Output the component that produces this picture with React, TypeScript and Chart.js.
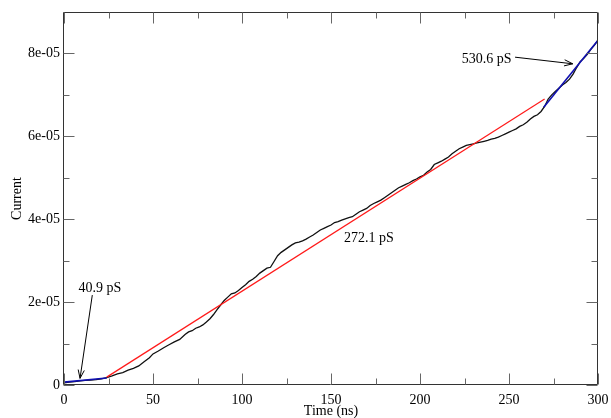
import { useEffect, useRef } from 'react';
import { Chart, registerables } from 'chart.js';

Chart.register(...registerables);

// ---- Data (time in ns, current in units of 1e-5) ----
const TIME: number[] = [
  0, 3, 6, 9, 12, 15, 18, 21, 24, 27, 30, 33, 36, 39, 42, 45, 48, 50, 53, 56, 59, 62, 65, 68, 70, 72, 74, 76, 78, 80,
  82, 84, 86, 88, 90, 92, 94, 96, 98, 100, 102, 104, 106, 108, 110, 112, 114, 116, 118, 120, 122, 124, 126, 128, 130,
  132, 134, 136, 138, 140, 142, 144, 146, 148, 150, 152, 154, 156, 158, 160, 162, 164, 166, 168, 170, 172, 174, 176,
  178, 180, 182, 184, 186, 188, 190, 192, 194, 196, 198, 200, 202, 204, 206, 208, 210, 212, 214, 216, 218, 220, 222,
  224, 226, 228, 230, 232, 234, 236, 238, 240, 242, 244, 246, 248, 250, 252, 254, 256, 258, 260, 262, 264, 266, 268,
  270, 272, 274, 276, 278, 280, 282, 284, 286, 288, 290, 292, 294, 296, 298, 300,
];
const CURRENT_E5: number[] = [
  0.05, 0.07, 0.08, 0.1, 0.11, 0.12, 0.13, 0.15, 0.18, 0.22, 0.27, 0.3, 0.36, 0.4, 0.46, 0.56, 0.66, 0.75, 0.82, 0.9,
  0.97, 1.04, 1.1, 1.22, 1.28, 1.31, 1.37, 1.4, 1.45, 1.52, 1.6, 1.7, 1.82, 1.93, 2.04, 2.12, 2.2, 2.22, 2.28, 2.35,
  2.42, 2.5, 2.55, 2.62, 2.7, 2.76, 2.82, 2.84, 2.98, 3.12, 3.2, 3.26, 3.32, 3.38, 3.43, 3.45, 3.48, 3.52, 3.57, 3.62,
  3.68, 3.74, 3.78, 3.82, 3.86, 3.92, 3.94, 3.98, 4.01, 4.04, 4.06, 4.12, 4.18, 4.22, 4.26, 4.33, 4.38, 4.42, 4.46,
  4.52, 4.58, 4.64, 4.7, 4.76, 4.8, 4.84, 4.88, 4.93, 4.97, 5.02, 5.06, 5.14, 5.2, 5.32, 5.36, 5.4, 5.45, 5.5, 5.58,
  5.64, 5.7, 5.74, 5.78, 5.8, 5.82, 5.84, 5.86, 5.88, 5.9, 5.93, 5.95, 5.98, 6.02, 6.06, 6.1, 6.14, 6.18, 6.24, 6.28,
  6.34, 6.42, 6.48, 6.52, 6.6, 6.72, 6.9, 7.0, 7.08, 7.16, 7.24, 7.3, 7.38, 7.5, 7.66, 7.8, 7.88, 7.98, 8.1, 8.2, 8.32,
];

// Linear fits: [x0, x1], [y0, y1] (y in 1e-5)
const FIT_MID_X: number[] = [24, 270];
const FIT_MID_Y: number[] = [0.19, 6.9];
const FIT_LOW_X: number[] = [0, 24];
const FIT_LOW_Y: number[] = [0.07, 0.17];
const FIT_HIGH_X: number[] = [269.5, 300];
const FIT_HIGH_Y: number[] = [6.7, 8.32];

// Axis ticks
const X_MAJOR: number[] = [0, 50, 100, 150, 200, 250, 300];
const X_MINOR: number[] = [25, 75, 125, 175, 225, 275];
const Y_MAJOR: number[] = [0, 2e-5, 4e-5, 6e-5, 8e-5];
const Y_MINOR: number[] = [1e-5, 3e-5, 5e-5, 7e-5];

// Annotations: label text and position (data coords), arrows from -> to
const LABELS: { text: string; x: number; y: number }[] = [
  { text: '40.9 pS', x: 20.2, y: 2.34e-5 },
  { text: '272.1 pS', x: 171.3, y: 3.54e-5 },
  { text: '530.6 pS', x: 237.4, y: 7.86e-5 },
];
const ARROWS: { x0: number; y0: number; x1: number; y1: number }[] = [
  { x0: 15.9, y0: 2.17e-5, x1: 9.0, y1: 0.16e-5 },
  { x0: 253.4, y0: 7.91e-5, x1: 285.8, y1: 7.75e-5 },
];

const FONT = '"Liberation Serif", "Times New Roman", serif';

const toPts = (xs: number[], ys: number[]) => xs.map((x, i) => ({ x, y: ys[i] * 1e-5 }));

const framePlugin = {
  id: 'frameTicks',
  afterDatasetsDraw(chart: any) {
    const { ctx, chartArea } = chart;
    const xs = chart.scales.x;
    const ys = chart.scales.y;
    const { left, right, top, bottom } = chartArea;
    ctx.save();
    ctx.strokeStyle = '#333';
    ctx.lineWidth = 1;
    ctx.beginPath();
    const L = Math.round(left) - 0.5;
    const R = Math.round(right) - 0.5;
    const T = Math.round(top) + 0.5;
    const B = Math.round(bottom) - 0.5;
    ctx.rect(L, T, R - L, B - T);
    ctx.stroke();
    ctx.strokeStyle = '#666';
    ctx.beginPath();
    const xt = (vals: number[], len: number) => {
      vals.forEach((v) => {
        const px = Math.round(xs.getPixelForValue(v)) + 0.5;
        ctx.moveTo(px, B);
        ctx.lineTo(px, B - len);
        ctx.moveTo(px, T);
        ctx.lineTo(px, T + len);
      });
    };
    const yt = (vals: number[], len: number) => {
      vals.forEach((v) => {
        const py = Math.round(ys.getPixelForValue(v)) + 0.5;
        ctx.moveTo(L, py);
        ctx.lineTo(L + len, py);
        ctx.moveTo(R, py);
        ctx.lineTo(R - len, py);
      });
    };
    xt(X_MAJOR, 11);
    xt(X_MINOR, 6);
    yt(Y_MAJOR, 11);
    yt(Y_MINOR, 6);
    ctx.stroke();

    // annotations
    ctx.fillStyle = '#000';
    ctx.font = `14px ${FONT}`;
    ctx.textAlign = 'center';
    ctx.textBaseline = 'middle';
    LABELS.forEach((l) => {
      ctx.fillText(l.text, xs.getPixelForValue(l.x), ys.getPixelForValue(l.y));
    });
    ctx.strokeStyle = '#000';
    ctx.lineWidth = 1;
    ARROWS.forEach((a) => {
      const x0 = xs.getPixelForValue(a.x0);
      const y0 = ys.getPixelForValue(a.y0);
      const x1 = xs.getPixelForValue(a.x1);
      const y1 = ys.getPixelForValue(a.y1);
      const ang = Math.atan2(y1 - y0, x1 - x0);
      const hl = 9;
      const spread = 0.35;
      ctx.beginPath();
      ctx.moveTo(x0, y0);
      ctx.lineTo(x1, y1);
      ctx.moveTo(x1 - hl * Math.cos(ang - spread), y1 - hl * Math.sin(ang - spread));
      ctx.lineTo(x1, y1);
      ctx.lineTo(x1 - hl * Math.cos(ang + spread), y1 - hl * Math.sin(ang + spread));
      ctx.stroke();
    });
    ctx.restore();
  },
};

export default function App() {
  const ref = useRef<HTMLCanvasElement | null>(null);
  useEffect(() => {
    if (!ref.current) return;
    const chart = new Chart(ref.current, {
      type: 'scatter',
      data: {
        datasets: [
          {
            data: toPts(TIME, CURRENT_E5),
            showLine: true,
            borderColor: '#111',
            borderWidth: 1.3,
            pointRadius: 0,
            order: 3,
          },
          {
            data: toPts(FIT_MID_X, FIT_MID_Y),
            showLine: true,
            borderColor: '#ff1a1a',
            borderWidth: 1.2,
            pointRadius: 0,
            order: 2,
          },
          {
            data: toPts(FIT_LOW_X, FIT_LOW_Y),
            showLine: true,
            borderColor: '#1010b0',
            borderWidth: 1.6,
            pointRadius: 0,
            order: 1,
          },
          {
            data: toPts(FIT_HIGH_X, FIT_HIGH_Y),
            showLine: true,
            borderColor: '#1010b0',
            borderWidth: 1.6,
            pointRadius: 0,
            order: 1,
          },
        ],
      },
      options: {
        responsive: false,
        animation: false,
        devicePixelRatio: 1,
        layout: { padding: { top: 12, right: 13, left: 0, bottom: 0 } },
        plugins: { legend: { display: false }, tooltip: { enabled: false } },
        scales: {
          x: {
            type: 'linear',
            min: 0,
            max: 300,
            afterBuildTicks: (s: any) => {
              s.ticks = X_MAJOR.map((v) => ({ value: v }));
            },
            afterFit: (s: any) => {
              s.height = 33;
              s.paddingLeft = 0;
              s.paddingRight = 0;
            },
            grid: { display: false, drawTicks: false },
            border: { display: false },
            ticks: {
              color: '#000',
              font: { family: FONT, size: 14 },
              padding: 7,
              maxRotation: 0,
              autoSkip: false,
            },
            title: {
              display: true,
              text: 'Time (ns)',
              color: '#000',
              font: { family: FONT, size: 14 },
              padding: { top: 0, bottom: -2 },
            },
          },
          y: {
            type: 'linear',
            min: 0,
            max: 9e-5,
            afterBuildTicks: (s: any) => {
              s.ticks = Y_MAJOR.map((v) => ({ value: v }));
            },
            afterFit: (s: any) => {
              s.width = 64;
              s.paddingTop = 0;
              s.paddingBottom = 0;
            },
            grid: { display: false, drawTicks: false },
            border: { display: false },
            ticks: {
              color: '#000',
              font: { family: FONT, size: 14 },
              padding: 4,
              autoSkip: false,
              callback: (v: any) => {
                const n = Math.round(Number(v) / 1e-5);
                return n === 0 ? '0' : `${n}e-05`;
              },
            },
            title: {
              display: true,
              text: 'Current',
              color: '#000',
              font: { family: FONT, size: 14 },
              padding: { top: 9, bottom: 0 },
            },
          },
        },
      },
      plugins: [framePlugin],
    } as any);
    return () => chart.destroy();
  }, []);
  return (
    <canvas
      ref={ref}
      width={611}
      height={418}
      style={{ position: 'absolute', left: 0, top: 0, width: 611, height: 418 }}
    />
  );
}
